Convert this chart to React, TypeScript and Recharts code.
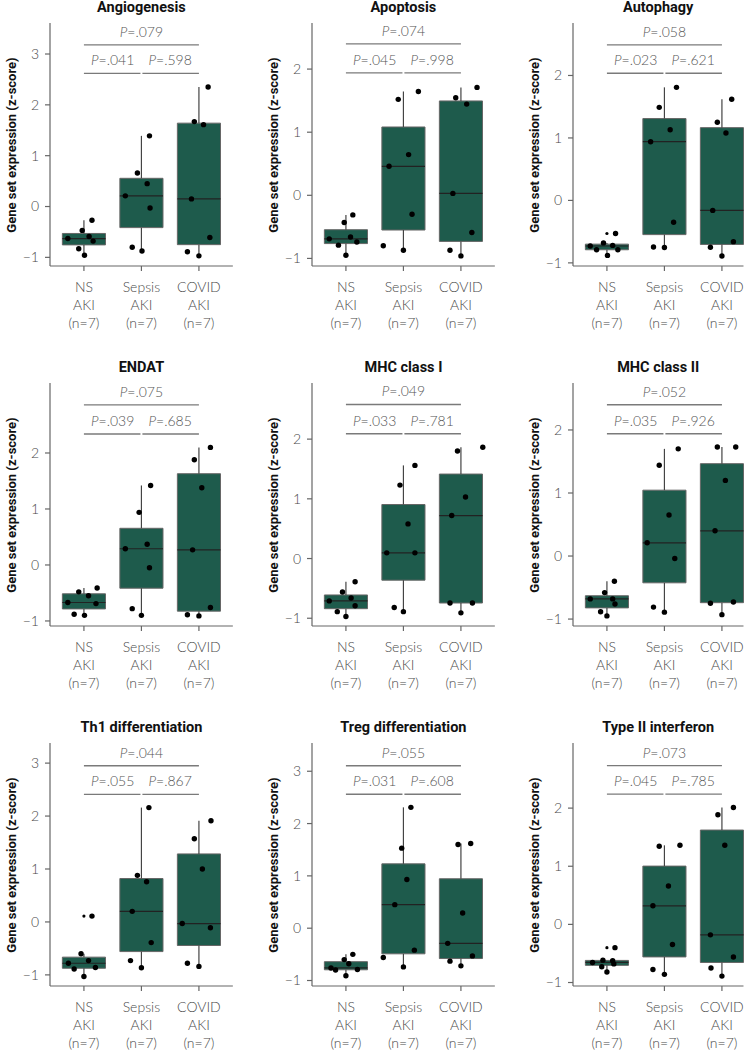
import React from "react";
import {
  ComposedChart,
  XAxis,
  YAxis,
  Scatter,
  ReferenceArea,
  ReferenceLine,
} from "recharts";

const categories = ["NS", "Sepsis", "COVID"];
const titles = [
  "Angiogenesis",
  "Apoptosis",
  "Autophagy",
  "ENDAT",
  "MHC class I",
  "MHC class II",
  "Th1 differentiation",
  "Treg differentiation",
  "Type II interferon",
];
const pAll = [".079", ".074", ".058", ".075", ".049", ".052", ".044", ".055", ".073"];
const pNsSepsis = [".041", ".045", ".023", ".039", ".033", ".035", ".055", ".031", ".045"];
const pSepsisCovid = [".598", ".998", ".621", ".685", ".781", ".926", ".867", ".608", ".785"];

const yMin = [-1.17, -1.12, -1.05, -1.09, -1.13, -1.11, -1.21, -1.105, -1.06];
const yMax = [3.61, 2.73, 2.84, 3.25, 2.94, 2.745, 3.38, 3.54, 3.12];
const yTicks = [
  [-1, 0, 1, 2, 3],
  [-1, 0, 1, 2],
  [-1, 0, 1, 2],
  [-1, 0, 1, 2],
  [-1, 0, 1, 2],
  [-1, 0, 1, 2],
  [-1, 0, 1, 2, 3],
  [-1, 0, 1, 2, 3],
  [-1, 0, 1, 2],
];
// bracket heights (data units)
const bracketTop = [3.18, 2.4, 2.49, 2.86, 2.58, 2.4, 2.95, 3.105, 2.73];
const bracketLow = [2.62, 1.94, 2.035, 2.34, 2.09, 1.94, 2.41, 2.56, 2.24];

// z-scores per group: NS, Sepsis, COVID
const angiogenesisValues = [
  [-0.63, -0.47, -0.83, -0.96, -0.59, -0.27, -0.68],
  [0.21, 0.66, 0.45, 1.39, -0.03, -0.8, -0.875],
  [2.35, 1.67, 1.61, 0.15, -0.61, -0.89, -0.97],
];
const angiogenesisJitter = [
  [-0.28, -0.03, -0.09, 0.01, 0.09, 0.14, 0.16],
  [-0.28, -0.07, 0.1, 0.14, 0.15, -0.16, 0.01],
  [0.16, -0.08, 0.08, -0.13, 0.19, -0.2, 0.0],
];
const apoptosisValues = [
  [-0.69, -0.79, -0.43, -0.95, -0.31, -0.66, -0.74],
  [1.52, 1.645, 0.645, 0.46, -0.3, -0.8, -0.87],
  [1.71, 1.545, 1.445, 0.03, -0.59, -0.87, -0.96],
];
const apoptosisJitter = [
  [-0.29, -0.13, -0.03, 0.0, 0.12, 0.08, 0.19],
  [-0.09, 0.26, 0.09, -0.25, 0.15, -0.35, 0.0],
  [0.28, -0.09, 0.1, -0.14, 0.19, -0.19, 0.0],
];
const autophagyValues = [
  [-0.73, -0.79, -0.68, -0.88, -0.72, -0.53, -0.79],
  [0.94, 1.49, 1.13, 1.81, -0.35, -0.745, -0.755],
  [1.62, 1.25, 1.08, -0.16, -0.66, -0.75, -0.89],
];
const autophagyJitter = [
  [-0.29, -0.18, -0.06, 0.01, 0.1, 0.15, 0.19],
  [-0.24, -0.09, 0.1, 0.21, 0.16, -0.19, 0.0],
  [0.17, -0.08, 0.07, -0.16, 0.2, -0.2, 0.0],
];
const endatValues = [
  [-0.67, -0.48, -0.55, -0.88, -0.9, -0.69, -0.41],
  [0.29, 0.94, 0.37, 1.42, -0.05, -0.78, -0.9],
  [2.1, 1.88, 1.38, 0.27, -0.76, -0.89, -0.91],
];
const endatJitter = [
  [-0.28, -0.09, 0.08, -0.17, 0.01, 0.21, 0.23],
  [-0.28, -0.04, 0.1, 0.16, 0.14, -0.16, 0.0],
  [0.2, -0.08, 0.05, -0.11, 0.2, -0.2, 0.0],
];
const mhc1Values = [
  [-0.71, -0.56, -0.89, -0.97, -0.66, -0.39, -0.79],
  [0.095, 1.23, 0.58, 1.56, 0.095, -0.82, -0.89],
  [0.72, 1.8, 1.03, 1.865, -0.745, -0.745, -0.91],
];
const mhc1Jitter = [
  [-0.29, -0.06, -0.15, 0.0, 0.09, 0.16, 0.16],
  [-0.29, -0.06, 0.08, 0.2, 0.2, -0.16, 0.0],
  [-0.16, -0.06, 0.08, 0.38, -0.19, 0.2, 0.0],
];
const mhc2Values = [
  [-0.68, -0.58, -0.885, -0.95, -0.68, -0.4, -0.76],
  [0.21, 1.44, 0.65, 1.7, -0.04, -0.81, -0.89],
  [1.73, 1.73, 1.2, 0.4, -0.75, -0.73, -0.93],
];
const mhc2Jitter = [
  [-0.29, -0.04, -0.11, 0.0, 0.1, 0.13, 0.14],
  [-0.3, -0.09, 0.08, 0.24, 0.18, -0.19, 0.0],
  [-0.08, 0.24, 0.06, -0.12, -0.2, 0.2, 0.0],
];
const th1Values = [
  [-0.78, -0.89, -0.6, -1.03, -0.73, -0.86, 0.11],
  [0.2, 0.88, 0.76, 2.16, -0.39, -0.73, -0.865],
  [1.91, 1.57, 1.0, -0.03, -0.11, -0.78, -0.84],
];
const th1Jitter = [
  [-0.27, -0.17, -0.05, 0.0, 0.08, 0.2, 0.14],
  [-0.16, -0.07, 0.09, 0.13, 0.17, -0.19, 0.0],
  [0.21, -0.08, 0.06, -0.29, 0.2, -0.2, 0.0],
];
const tregValues = [
  [-0.76, -0.8, -0.6, -0.68, -0.5, -0.79, -0.91],
  [0.45, 1.53, 0.93, 2.31, -0.42, -0.56, -0.74],
  [1.6, 1.62, 0.29, -0.29, -0.53, -0.63, -0.72],
];
const tregJitter = [
  [-0.26, -0.18, -0.03, 0.05, 0.12, 0.2, 0.0],
  [-0.15, -0.03, 0.06, 0.13, 0.19, -0.35, 0.0],
  [-0.05, 0.17, 0.03, -0.23, 0.2, -0.19, 0.0],
];
const ifn2Values = [
  [-0.655, -0.73, -0.615, -0.625, -0.68, -0.4, -0.82],
  [0.32, 1.345, 0.66, 1.36, -0.345, -0.775, -0.86],
  [2.01, 1.885, 1.36, -0.18, -0.56, -0.75, -0.89],
];
const ifn2Jitter = [
  [-0.25, -0.09, -0.07, 0.1, 0.12, 0.14, 0.0],
  [-0.2, -0.09, 0.07, 0.27, 0.14, -0.2, 0.0],
  [0.2, -0.07, 0.05, -0.2, 0.2, -0.19, 0.0],
];

const panelValues = [
  angiogenesisValues, apoptosisValues, autophagyValues,
  endatValues, mhc1Values, mhc2Values,
  th1Values, tregValues, ifn2Values,
];
const panelJitter = [
  angiogenesisJitter, apoptosisJitter, autophagyJitter,
  endatJitter, mhc1Jitter, mhc2Jitter,
  th1Jitter, tregJitter, ifn2Jitter,
];

// layout
const colAxisX = [50, 312, 573];
const rowPlotTop = [23, 383, 743];
const PLOT_H = 243;
const UNIT_W = 57.5;
const X_MIN = 0.41;
const BOX_HALF = 0.375;

const FILL = "#1e5b4c";
const GREY = "#666";
const TXT = "#4a4a4a";
const LIGHT = "Lato, 'Open Sans', sans-serif";
const BOLD = "Roboto, 'DejaVu Sans', sans-serif";

function quantile(sorted: number[], q: number) {
  const pos = (sorted.length - 1) * q;
  const lo = Math.floor(pos);
  const hi = Math.ceil(pos);
  return sorted[lo] + (sorted[hi] - sorted[lo]) * (pos - lo);
}

// same summary as geom_boxplot
function boxStats(values: number[]) {
  const s = [...values].sort((a, b) => a - b);
  const q1 = quantile(s, 0.25);
  const med = quantile(s, 0.5);
  const q3 = quantile(s, 0.75);
  const iqr = q3 - q1;
  const inside = s.filter((v) => v >= q1 - 1.5 * iqr && v <= q3 + 1.5 * iqr);
  const out = s.filter((v) => v < q1 - 1.5 * iqr || v > q3 + 1.5 * iqr);
  return { q1, med, q3, lo: inside[0], hi: inside[inside.length - 1], out };
}

const fmt = (v: number) => (v < 0 ? "\u2212" + Math.abs(v) : String(v));

const XTick = (props: any) => {
  const { x, y, payload } = props;
  const i = Math.round(payload.value) - 1;
  return (
    <text x={x} y={y} textAnchor="middle" fill={TXT} fontSize={14} fontFamily={LIGHT} fontWeight={300}>
      <tspan x={x} dy={19}>{categories[i]}</tspan>
      <tspan x={x} dy={18}>AKI</tspan>
      <tspan x={x} dy={18}>(n=7)</tspan>
    </text>
  );
};

const PText = (props: any) => {
  const { cx, cy, payload } = props;
  return (
    <text x={cx} y={cy - 8} textAnchor="middle" fill="#555" fontSize={14} fontFamily={LIGHT} fontWeight={300}>
      <tspan fontStyle="italic">P</tspan>={payload.t}
    </text>
  );
};

const Dot = (props: any) => <circle cx={props.cx} cy={props.cy} r={2.7} fill="#000" />;
const SmallDot = (props: any) => <circle cx={props.cx} cy={props.cy} r={1.6} fill="#000" />;

const Panel = ({ k }: { k: number }) => {
  const col = k % 3;
  const row = Math.floor(k / 3);
  const axisX = colAxisX[col];
  const plotTop = rowPlotTop[row];
  const xMax = col === 2 ? 3.375 : 3.59;
  const plotW = (xMax - X_MIN) * UNIT_W;
  const width = 250;
  const height = 23 + PLOT_H + 70;
  const values = panelValues[k];
  const jitter = panelJitter[k];
  const stats = values.map(boxStats);

  return (
    <>
      <div
        style={{
          position: "absolute",
          left: axisX,
          top: plotTop - 23,
          width: plotW,
          height: 16,
          lineHeight: "16px",
          textAlign: "center",
          fontFamily: BOLD,
          fontWeight: 700,
          fontSize: 14.5,
          color: "#111",
          whiteSpace: "nowrap",
        }}
      >
        {titles[k]}
      </div>
      <div
        style={{
          position: "absolute",
          left: axisX - 39 - PLOT_H / 2,
          top: plotTop + PLOT_H / 2 - 8,
          width: PLOT_H,
          height: 16,
          lineHeight: "16px",
          textAlign: "center",
          transform: "rotate(-90deg)",
          fontFamily: BOLD,
          fontWeight: 700,
          fontSize: 13,
          color: "#111",
          whiteSpace: "nowrap",
        }}
      >
        Gene set expression (z-score)
      </div>
      <div style={{ position: "absolute", left: axisX - 50, top: plotTop - 23 }}>
        <ComposedChart
          width={width}
          height={height}
          margin={{ top: 23, right: width - 50 - plotW, bottom: 0, left: 0 }}
        >
          <XAxis
            type="number"
            dataKey="x"
            domain={[X_MIN, xMax]}
            allowDataOverflow
            ticks={[1, 2, 3]}
            height={70}
            tick={<XTick />}
            tickSize={5}
            stroke={GREY}
            strokeWidth={1.2}
          />
          <YAxis
            type="number"
            dataKey="y"
            domain={[yMin[k], yMax[k]]}
            allowDataOverflow
            ticks={yTicks[k]}
            tickFormatter={fmt}
            width={50}
            tickSize={5}
            tickMargin={6}
            stroke={GREY}
            strokeWidth={1.2}
            tick={{ fill: TXT, fontSize: 14, fontFamily: LIGHT, fontWeight: 300 }}
          />
          {stats.map((s, i) => (
            <ReferenceArea
              key={"box" + i}
              x1={i + 1 - BOX_HALF}
              x2={i + 1 + BOX_HALF}
              y1={s.q1}
              y2={s.q3}
              fill={FILL}
              fillOpacity={1}
              stroke={GREY}
              strokeWidth={1}
              ifOverflow="visible"
            />
          ))}
          {/* whiskers: outside the box only */}
          {stats.map((s, i) => (
            <ReferenceLine
              key={"whu" + i}
              segment={[{ x: i + 1, y: s.q3 }, { x: i + 1, y: s.hi }]}
              stroke="#444"
              strokeWidth={1.2}
              ifOverflow="visible"
            />
          ))}
          {stats.map((s, i) => (
            <ReferenceLine
              key={"whl" + i}
              segment={[{ x: i + 1, y: s.lo }, { x: i + 1, y: s.q1 }]}
              stroke="#444"
              strokeWidth={1.2}
              ifOverflow="visible"
            />
          ))}
          {stats.map((s, i) => (
            <ReferenceLine
              key={"med" + i}
              segment={[{ x: i + 1 - BOX_HALF, y: s.med }, { x: i + 1 + BOX_HALF, y: s.med }]}
              stroke="#222"
              strokeWidth={1.2}
              ifOverflow="visible"
            />
          ))}
          <ReferenceLine segment={[{ x: 1, y: bracketTop[k] }, { x: 3, y: bracketTop[k] }]} stroke="#7a7a7a" strokeWidth={1.4} />
          <ReferenceLine segment={[{ x: 1, y: bracketLow[k] }, { x: 1.983, y: bracketLow[k] }]} stroke="#7a7a7a" strokeWidth={1.4} />
          <ReferenceLine segment={[{ x: 2.017, y: bracketLow[k] }, { x: 3, y: bracketLow[k] }]} stroke="#7a7a7a" strokeWidth={1.4} />
          <Scatter
            data={[
              { x: 2, y: bracketTop[k], t: pAll[k] },
              { x: 1.5, y: bracketLow[k], t: pNsSepsis[k] },
              { x: 2.5, y: bracketLow[k], t: pSepsisCovid[k] },
            ]}
            shape={<PText />}
            isAnimationActive={false}
          />
          {stats.map((s, i) => (
            <Scatter
              key={"out" + i}
              data={s.out.map((v) => ({ x: i + 1, y: v }))}
              shape={<SmallDot />}
              isAnimationActive={false}
            />
          ))}
          {values.map((vals, i) => (
            <Scatter
              key={"pts" + i}
              data={vals.map((v, j) => ({ x: i + 1 + jitter[i][j], y: v }))}
              shape={<Dot />}
              isAnimationActive={false}
            />
          ))}
        </ComposedChart>
      </div>
    </>
  );
}

export default function App() {
  return (
    <div
      style={{
        position: "absolute",
        left: 0,
        top: 0,
        width: 756,
        height: 1053,
        overflow: "hidden",
        background: "#fff",
      }}
    >
      {titles.map((_, k) => (
        <Panel key={k} k={k} />
      ))}
    </div>
  );
}
